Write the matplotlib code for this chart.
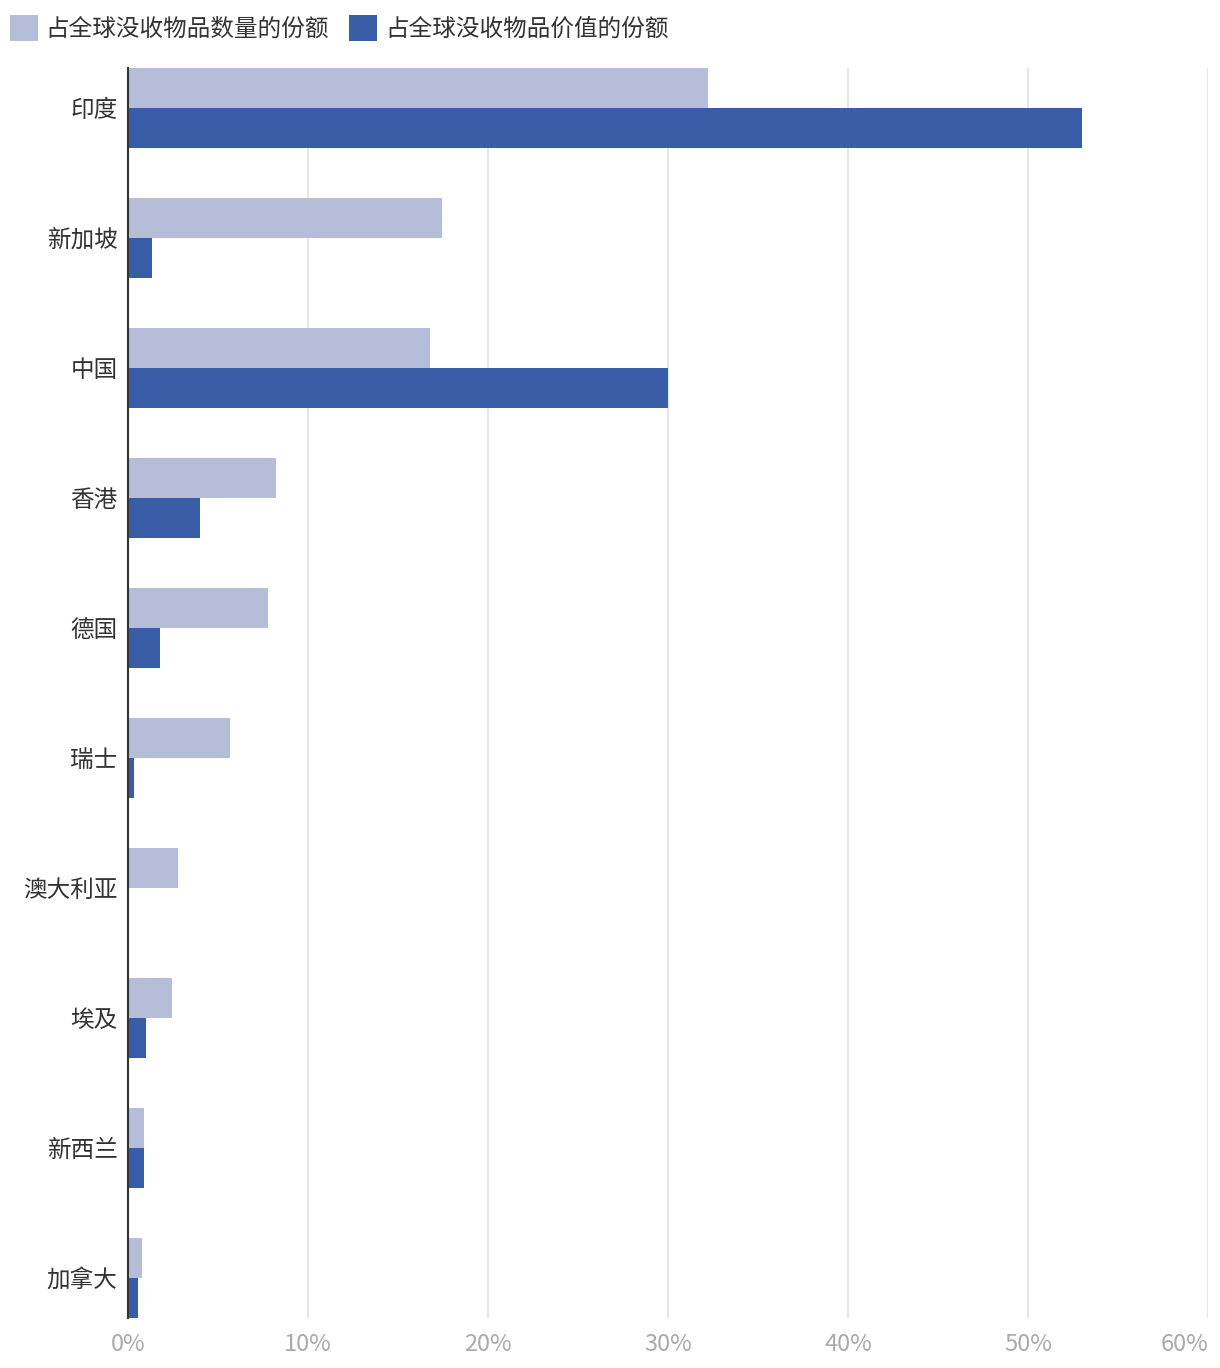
import matplotlib
matplotlib.use("Agg")
import matplotlib.pyplot as plt
from matplotlib.patches import Patch
import numpy as np

plt.rcParams['font.family'] = ['Noto Sans CJK SC', 'DejaVu Sans']

# 数据
countries = ['印度', '新加坡', '中国', '香港', '德国', '瑞士', '澳大利亚', '埃及', '新西兰', '加拿大']
share_count = [32.2, 17.45, 16.8, 8.2, 7.8, 5.65, 2.8, 2.45, 0.9, 0.8]
share_value = [53.0, 1.35, 30.0, 4.0, 1.8, 0.35, 0.08, 1.0, 0.9, 0.55]
series_names = ['占全球没收物品数量的份额', '占全球没收物品价值的份额']
xticks = [0, 10, 20, 30, 40, 50, 60]
xtick_labels = ['0%', '10%', '20%', '30%', '40%', '50%', '60%']

c_light = '#b5bdd9'
c_dark = '#385da6'

fig = plt.figure(figsize=(12.2, 13.68), dpi=100)
ax = fig.add_axes([128/1220, 1-1318/1368, 1080/1220, 1250/1368])

h = 40/130
y = np.arange(len(countries))
ax.barh(y, share_count, height=h, align='edge', color=c_light, zorder=3)
ax.barh(y + h, share_value, height=h, align='edge', color=c_dark, zorder=3)

ax.set_xlim(0, 60)
ax.set_ylim(len(countries) - 1 + 2*h, 0)
ax.set_xticks(xticks)
ax.set_xticklabels(xtick_labels, color='#aaaaaa', fontsize=17)
ax.get_xticklabels()[-1].set_ha('right')
ax.set_yticks(y + h)
ax.set_yticklabels(countries, color='#333333', fontsize=17)
ax.tick_params(length=0, axis='x', pad=11)
ax.tick_params(length=0, axis='y', pad=7.5)

for s in ['top', 'right', 'bottom']:
    ax.spines[s].set_visible(False)
ax.spines['left'].set_color('#333333')
ax.spines['left'].set_linewidth(1.5)
ax.spines['left'].set_zorder(4)
ax.xaxis.grid(True, color='#e6e6e6', linewidth=1.5, zorder=0)
ax.set_axisbelow(True)

handles = [Patch(facecolor=c_light, edgecolor='none'), Patch(facecolor=c_dark, edgecolor='none')]
fig.legend(handles, series_names, loc='upper left', bbox_to_anchor=(0.0, 1 - 5/1368),
           ncol=2, frameon=False, fontsize=17, handlelength=1.18, handleheight=1.3,
           handletextpad=0.34, columnspacing=0.85, borderaxespad=0.02,
           labelcolor='#333333')

fig.savefig('out.png', dpi=100)
